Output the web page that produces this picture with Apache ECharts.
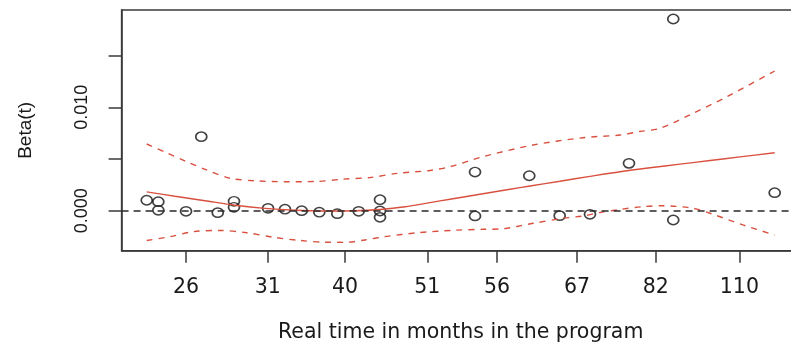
<!DOCTYPE html>
<html>
<head>
<meta charset="utf-8">
<script src="https://cdn.jsdelivr.net/npm/echarts@6/dist/echarts.min.js"></script>
<style>
html,body{margin:0;padding:0;background:#fff;}
#chart{width:791px;height:342px;}
</style>
</head>
<body>
<div id="chart"></div>
<script>
// x is the transformed time scale (0 = first event, 1 = last event)
var tickPos = [0.0626, 0.1927, 0.3158, 0.4468, 0.5578, 0.6852, 0.8105, 0.9438];
var tickLabels = ['26', '31', '40', '51', '56', '67', '82', '110'];
var yTicks = [0, 0.005, 0.010, 0.015];
var yLabels = [0, 0.010];

// residual points
var ptU = [0, 0.0185, 0.0185, 0.0626, 0.0869, 0.1131, 0.139, 0.139, 0.1932, 0.2202,
           0.2468, 0.2748, 0.3035, 0.3376, 0.3715, 0.3715, 0.3715, 0.5228, 0.5228, 0.6092,
           0.6576, 0.7059, 0.768, 0.8385, 0.8385, 1.0];
var ptV = [0.00101, 0.00087, 0.00004, -0.00006, 0.00716, -0.00019, 0.00091, 0.00033, 0.00023, 0.00014,
           0.0000, -0.00015, -0.00029, -0.00006, 0.00106, -0.00003, -0.00064, 0.00374, -0.00051, 0.00338,
           -0.00048, -0.00035, 0.00458, 0.01854, -0.0009, 0.00174];

// fitted beta(t)
var fitU = [0, 0.0451, 0.0928, 0.1406, 0.1884, 0.2362, 0.2839, 0.3317, 0.3715, 0.4113, 0.4511, 0.483,
            0.5307, 0.5785, 0.6104, 0.6581, 0.7059, 0.7537, 0.8014, 0.8492, 0.897, 0.9447, 1.0];
var fitV = [0.00182, 0.00139, 0.00096, 0.00053, 0.00022, 0.00004, -0.00003, -0.00001, 0.00012, 0.00038, 0.00078, 0.00111,
            0.00159, 0.00207, 0.00239, 0.00285, 0.00332, 0.00377, 0.00415, 0.0045, 0.00485, 0.0052, 0.00561];

// upper confidence band
var upU = [0, 0.0291, 0.0637, 0.0955, 0.1326, 0.1725, 0.2202, 0.268, 0.311, 0.3556, 0.4002, 0.4511,
           0.483, 0.5355, 0.6151, 0.6947, 0.7537, 0.7855, 0.8174, 0.8699, 0.9241, 1.0];
var upV = [0.00645, 0.00568, 0.00474, 0.00394, 0.00314, 0.00289, 0.0028, 0.00282, 0.00304, 0.00321, 0.00362, 0.00389,
           0.00426, 0.00522, 0.00635, 0.00706, 0.00732, 0.00766, 0.00797, 0.00942, 0.01103, 0.01351];

// lower confidence band
var loU = [0, 0.0371, 0.0742, 0.1161, 0.1592, 0.2016, 0.2441, 0.2839, 0.3158, 0.3476, 0.3795, 0.432,
           0.4909, 0.5355, 0.5626, 0.6151, 0.6629, 0.6947, 0.7218, 0.7537, 0.7903, 0.8222, 0.8699, 0.897, 0.9495, 1.0];
var loV = [-0.00288, -0.00251, -0.00203, -0.00191, -0.00213, -0.00257, -0.00288, -0.00305, -0.00306, -0.00283, -0.00251, -0.00213,
           -0.00189, -0.0018, -0.00177, -0.00122, -0.00074, -0.00051, -0.00017, 0.00012, 0.00039, 0.00048, 0.00023, -0.00025, -0.00138, -0.00235];

function zip(a, b) { return a.map(function (v, i) { return [v, b[i]]; }); }

var RED = '#d9503f';
var AX = '#3a3a3a';

var chart = echarts.init(document.getElementById('chart'), null, {renderer: 'canvas'});
chart.setOption({
  animation: false,
  backgroundColor: '#ffffff',
  grid: {
    left: 121.6, right: -8.8, top: 10, bottom: 91.3,
    containLabel: false, outerBoundsMode: 'none',
    show: true, borderColor: AX, borderWidth: 1.5, backgroundColor: 'transparent'
  },
  xAxis: {
    type: 'value', min: -0.04, max: 1.04,
    splitLine: {show: false},
    axisLine: {show: true, onZero: false, lineStyle: {color: AX, width: 1.5}},
    axisTick: {show: true, customValues: tickPos, length: 12, inside: false, lineStyle: {color: AX, width: 1.5}},
    axisLabel: {
      show: true, customValues: tickPos, margin: 26,
      fontFamily: 'DejaVu Sans', fontSize: 20.5, color: '#1a1a1a',
      formatter: function (v) {
        var best = 0;
        for (var i = 0; i < tickPos.length; i++) {
          if (Math.abs(tickPos[i] - v) < Math.abs(tickPos[best] - v)) best = i;
        }
        return tickLabels[best];
      }
    },
    name: 'Real time in months in the program',
    nameLocation: 'middle', nameGap: 71,
    nameTextStyle: {fontFamily: 'DejaVu Sans', fontSize: 20.5, color: '#1a1a1a'}
  },
  yAxis: {
    type: 'value', min: -0.00387, max: 0.01941,
    splitLine: {show: false},
    axisLine: {show: true, onZero: false, lineStyle: {color: AX, width: 1.5}},
    axisTick: {show: true, customValues: yTicks, length: 13, inside: false, lineStyle: {color: AX, width: 1.5}},
    axisLabel: {
      show: true, customValues: yLabels, rotate: 90, margin: 31,
      fontFamily: 'Liberation Sans', fontSize: 18, color: '#1a1a1a',
      formatter: function (v) { return v.toFixed(3); }
    },
    name: 'Beta(t)', nameLocation: 'middle', nameRotate: 90, nameGap: 86,
    nameTextStyle: {fontFamily: 'Liberation Sans', fontSize: 19, color: '#1a1a1a'}
  },
  series: [
    {
      type: 'line', data: zip(fitU, fitV), smooth: 0.3, symbol: 'none', silent: true,
      lineStyle: {color: RED, width: 1.4},
      markLine: {
        silent: true, symbol: 'none', label: {show: false},
        lineStyle: {color: '#2a2a2a', type: [7, 5], width: 1.5},
        data: [{yAxis: 0}]
      }
    },
    {
      type: 'line', data: zip(upU, upV), smooth: 0.3, symbol: 'none', silent: true,
      lineStyle: {color: RED, width: 1.4, type: [6, 6]}
    },
    {
      type: 'line', data: zip(loU, loV), smooth: 0.3, symbol: 'none', silent: true,
      lineStyle: {color: RED, width: 1.4, type: [6, 6]}
    },
    {
      type: 'scatter', data: zip(ptU, ptV), symbol: 'circle', symbolSize: [11, 9.3], silent: true,
      itemStyle: {color: 'rgba(0,0,0,0)', borderColor: '#111', borderWidth: 1.6}
    }
  ]
});
</script>
</body>
</html>
